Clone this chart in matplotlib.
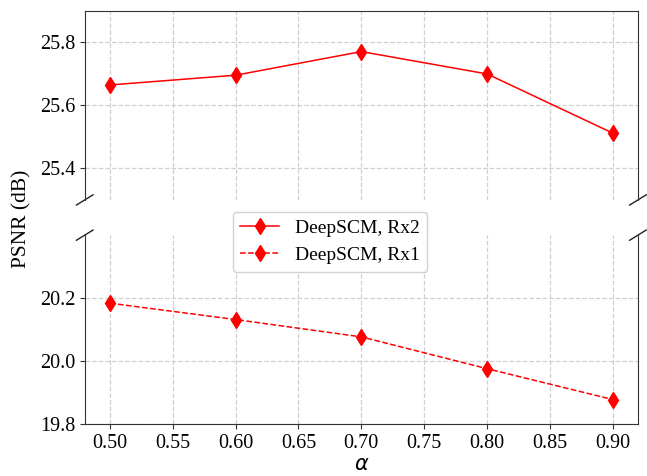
import matplotlib.pyplot as plt

alpha = [0.5, 0.6, 0.7, 0.8, 0.9]
psnr_rx2 = [25.665, 25.696, 25.771, 25.700, 25.512]
psnr_rx1 = [20.184, 20.132, 20.077, 19.976, 19.878]
xticks = [0.50, 0.55, 0.60, 0.65, 0.70, 0.75, 0.80, 0.85, 0.90]

plt.rcParams["font.family"] = ["Liberation Serif", "DejaVu Serif"]
plt.rcParams["mathtext.fontset"] = "dejavusans"

fig = plt.figure(figsize=(6.47, 4.76), dpi=100)
ax_top = fig.add_axes([0.131, 0.580, 0.855, 0.397])
ax_bot = fig.add_axes([0.131, 0.109, 0.855, 0.397])

l2, = ax_top.plot(alpha, psnr_rx2, "-", color="red", marker="d", markersize=8,
                  linewidth=1.1, label="DeepSCM, Rx2")
l1, = ax_bot.plot(alpha, psnr_rx1, "--", color="red", marker="d", markersize=8,
                  linewidth=1.1, label="DeepSCM, Rx1")

ax_top.set_ylim(25.3, 25.9)
ax_bot.set_ylim(19.8, 20.4)
ax_top.set_yticks([25.4, 25.6, 25.8])
ax_bot.set_yticks([19.8, 20.0, 20.2])
for ax in (ax_top, ax_bot):
    ax.set_xlim(0.48, 0.92)
    ax.set_xticks(xticks)
    ax.grid(True, linestyle="--", color="#d0d0d0", linewidth=0.9)
    ax.tick_params(labelsize=14.5, color="#333333")
    for s in ax.spines.values():
        s.set_color("#333333")

ax_top.spines["bottom"].set_visible(False)
ax_top.tick_params(axis="x", bottom=False, labelbottom=False)
ax_bot.spines["top"].set_visible(False)
ax_bot.set_xticklabels([f"{v:.2f}" for v in xticks])

# break marks
dx, dy = 0.015, 0.027
kw = dict(color="#222222", clip_on=False, linewidth=1.0)
ax_top.plot((-dx, +dx), (-dy, +dy), transform=ax_top.transAxes, **kw)
ax_top.plot((1 - dx, 1 + dx), (-dy, +dy), transform=ax_top.transAxes, **kw)
ax_bot.plot((-dx, +dx), (1 - dy, 1 + dy), transform=ax_bot.transAxes, **kw)
ax_bot.plot((1 - dx, 1 + dx), (1 - dy, 1 + dy), transform=ax_bot.transAxes, **kw)

ax_bot.set_xlabel(r"$\alpha$", fontsize=15, labelpad=2)
fig.text(0.034, 0.54, "PSNR (dB)", rotation=90, va="center", ha="center", fontsize=15.5)

fig.legend(handles=[l2, l1], loc="center", bbox_to_anchor=(0.51, 0.492),
           fontsize=14, framealpha=0.9, edgecolor="#cccccc")

fig.savefig("out.png", dpi=100)
